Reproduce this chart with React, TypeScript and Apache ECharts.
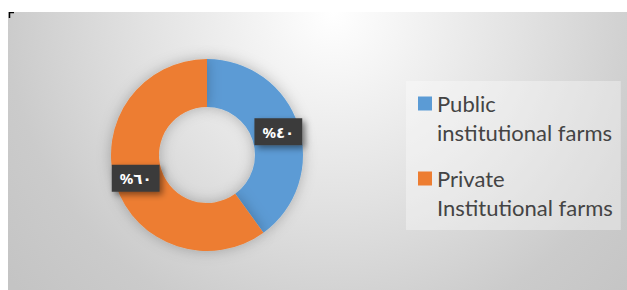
import React, { useEffect, useRef } from "react";
import * as echarts from "echarts";

const categories = ["Public\ninstitutional farms", "Private\nInstitutional farms"];
const values = [40, 60];
const valueLabels = ["%٤٠", "%٦٠"];
const colors = ["#5b9bd5", "#ed7d31"];

export default function App() {
  const ref = useRef<HTMLDivElement>(null);
  useEffect(() => {
    if (!ref.current) return;
    const chart = echarts.init(ref.current, undefined, { renderer: "svg" });
    const W = 619;
    const H = 278;
    chart.setOption({
      animation: false,
      graphic: [
        {
          type: "rect",
          z: -10,
          silent: true,
          shape: { x: 0, y: 0, width: W, height: H },
          style: {
            fill: new echarts.graphic.RadialGradient(
              325,
              0,
              420,
              [
                { offset: 0, color: "#ffffff" },
                { offset: 0.45, color: "#e2e2e2" },
                { offset: 0.78, color: "#cbcbcb" },
                { offset: 1, color: "#c4c4c4" },
              ],
              true
            ),
          },
        },
        {
          type: "polyline",
          z: 10,
          silent: true,
          shape: { points: [[1.5, 6], [1.5, 0.5], [6, 0.5]] },
          style: { stroke: "#000", lineWidth: 1.5, fill: "none" },
        },
      ],
      legend: {
        orient: "vertical",
        left: 398,
        top: 69,
        padding: [8, 8, 8, 12],
        backgroundColor: "rgba(255,255,255,0.35)",
        itemWidth: 14,
        itemHeight: 58,
        itemGap: 17,
        icon: "path://M0,7.5H14V21.5H0Z M0,0h0.01v0.01z M0,58h0.01v0.01z",
        textStyle: {
          fontFamily: "Lato",
          fontSize: 22,
          lineHeight: 29,
          color: "#444444",
        },
        data: categories,
      },
      series: [
        {
          type: "pie",
          center: [199, 143],
          radius: [48, 96],
          startAngle: 90,
          clockwise: true,
          itemStyle: {
            shadowColor: "rgba(0,0,0,0.25)",
            shadowBlur: 14,
          },
          label: {
            show: true,
            position: "inside",
            formatter: (p: any) => valueLabels[p.dataIndex],
            color: "#ffffff",
            fontFamily: "Noto Sans, DejaVu Sans",
            fontSize: 15,
            fontWeight: "bold",
            backgroundColor: "#3b3b3b",
            padding: [6, 8],
            shadowColor: "rgba(0,0,0,0.45)",
            shadowBlur: 6,
            shadowOffsetX: 3,
            shadowOffsetY: 3,
          },
          labelLine: { show: false },
          data: categories.map((name, i) => ({
            name,
            value: values[i],
            itemStyle: { color: colors[i] },
          })),
        },
      ],
    });
    return () => chart.dispose();
  }, []);
  return (
    <div
      ref={ref}
      style={{ position: "absolute", left: 8, top: 12, width: 619, height: 278 }}
    />
  );
}
